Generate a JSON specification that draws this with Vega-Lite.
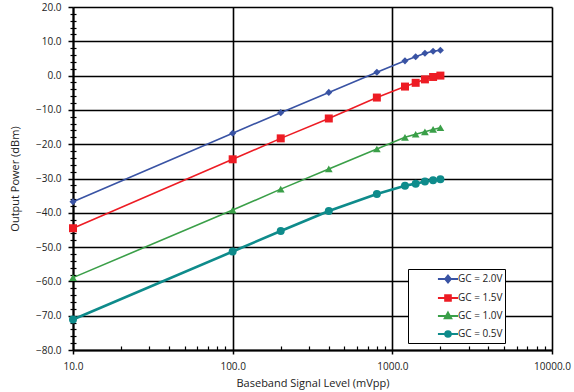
{
  "$schema": "https://vega.github.io/schema/vega-lite/v6.json",
  "width": 479,
  "height": 343,
  "autosize": {"type": "none"},
  "padding": {"left": 73, "top": 7, "right": 22, "bottom": 42},
  "background": "white",
  "config": {
    "view": {"stroke": null},
    "font": "Open Sans",
    "axis": {"labelFont": "Open Sans", "titleFont": "Open Sans", "labelColor": "#222", "titleColor": "#222", "labelFontSize": 10, "titleFontSize": 11, "titleFontWeight": "normal"}
  },
  "data": {
    "values": [
      {"mv": 10, "p": -36.8, "gc": "GC = 2.0V"},
      {"mv": 100, "p": -16.8, "gc": "GC = 2.0V"},
      {"mv": 200, "p": -10.8, "gc": "GC = 2.0V"},
      {"mv": 400, "p": -4.9, "gc": "GC = 2.0V"},
      {"mv": 800, "p": 1.0, "gc": "GC = 2.0V"},
      {"mv": 1200, "p": 4.3, "gc": "GC = 2.0V"},
      {"mv": 1400, "p": 5.5, "gc": "GC = 2.0V"},
      {"mv": 1600, "p": 6.5, "gc": "GC = 2.0V"},
      {"mv": 1800, "p": 7.1, "gc": "GC = 2.0V"},
      {"mv": 2000, "p": 7.4, "gc": "GC = 2.0V"},
      {"mv": 10, "p": -44.5, "gc": "GC = 1.5V"},
      {"mv": 100, "p": -24.4, "gc": "GC = 1.5V"},
      {"mv": 200, "p": -18.3, "gc": "GC = 1.5V"},
      {"mv": 400, "p": -12.5, "gc": "GC = 1.5V"},
      {"mv": 800, "p": -6.4, "gc": "GC = 1.5V"},
      {"mv": 1200, "p": -3.2, "gc": "GC = 1.5V"},
      {"mv": 1400, "p": -2.1, "gc": "GC = 1.5V"},
      {"mv": 1600, "p": -1.1, "gc": "GC = 1.5V"},
      {"mv": 1800, "p": -0.4, "gc": "GC = 1.5V"},
      {"mv": 2000, "p": 0.0, "gc": "GC = 1.5V"},
      {"mv": 10, "p": -58.9, "gc": "GC = 1.0V"},
      {"mv": 100, "p": -39.2, "gc": "GC = 1.0V"},
      {"mv": 200, "p": -33.1, "gc": "GC = 1.0V"},
      {"mv": 400, "p": -27.2, "gc": "GC = 1.0V"},
      {"mv": 800, "p": -21.4, "gc": "GC = 1.0V"},
      {"mv": 1200, "p": -18.0, "gc": "GC = 1.0V"},
      {"mv": 1400, "p": -17.1, "gc": "GC = 1.0V"},
      {"mv": 1600, "p": -16.4, "gc": "GC = 1.0V"},
      {"mv": 1800, "p": -15.7, "gc": "GC = 1.0V"},
      {"mv": 2000, "p": -15.2, "gc": "GC = 1.0V"},
      {"mv": 10, "p": -71.1, "gc": "GC = 0.5V"},
      {"mv": 100, "p": -51.3, "gc": "GC = 0.5V"},
      {"mv": 200, "p": -45.3, "gc": "GC = 0.5V"},
      {"mv": 400, "p": -39.5, "gc": "GC = 0.5V"},
      {"mv": 800, "p": -34.5, "gc": "GC = 0.5V"},
      {"mv": 1200, "p": -32.1, "gc": "GC = 0.5V"},
      {"mv": 1400, "p": -31.5, "gc": "GC = 0.5V"},
      {"mv": 1600, "p": -30.9, "gc": "GC = 0.5V"},
      {"mv": 1800, "p": -30.5, "gc": "GC = 0.5V"},
      {"mv": 2000, "p": -30.2, "gc": "GC = 0.5V"}
    ]
  },
  "resolve": {"axis": {"x": "independent", "y": "independent"}},
  "layer": [
    {
      "mark": {"type": "line"},
      "encoding": {
        "x": {"field": "mv", "type": "quantitative",
          "scale": {"type": "log", "domain": [10, 10000], "nice": false},
          "axis": {"orient": "bottom", "values": [10, 100, 1000, 10000], "format": ".1f", "title": "Baseband Signal Level (mVpp)",
            "grid": true, "gridColor": "black", "gridWidth": 1.6, "gridOpacity": 1,
            "domainColor": "black", "domainWidth": 2, "tickColor": "black", "tickWidth": 1.5, "tickSize": 4,
            "labelPadding": 7, "titlePadding": 6, "labelFlush": false}},
        "y": {"field": "p", "type": "quantitative",
          "scale": {"domain": [-80, 20], "nice": false},
          "axis": {"orient": "left", "values": [-80, -70, -60, -50, -40, -30, -20, -10, 0, 10, 20], "format": ".1f", "title": "Output Power (dBm)",
            "grid": true, "gridColor": "black", "gridWidth": 1.6, "gridOpacity": 1,
            "domainColor": "black", "domainWidth": 2, "tickColor": "black", "tickWidth": 1.5, "tickSize": 5,
            "labelPadding": 7, "titlePadding": 15}},
        "color": {"field": "gc", "type": "nominal", "legend": null,
          "scale": {"range": ["#0E8B8B", "#3A9F48", "#ED1C24", "#3953A4"]}},
        "strokeWidth": {"condition": {"test": "datum.gc === 'GC = 0.5V'", "value": 2.6}, "value": 1.6}
      }
    },
    {
      "transform": [{"filter": "datum.gc === 'GC = 2.0V'"}],
      "mark": {"type": "point", "filled": true, "opacity": 1, "shape": "diamond", "size": 50},
      "encoding": {
        "x": {"field": "mv", "type": "quantitative",
          "axis": {"orient": "bottom", "values": [20, 30, 40, 50, 60, 70, 80, 90, 200, 300, 400, 500, 600, 700, 800, 900, 2000, 3000, 4000, 5000, 6000, 7000, 8000, 9000],
            "labels": false, "grid": false, "domain": false, "title": null, "tickColor": "black", "tickWidth": 1.2, "tickSize": -4}},
        "y": {"field": "p", "type": "quantitative",
          "axis": {"orient": "left", "values": [-78, -76, -74, -72, -68, -66, -64, -62, -58, -56, -54, -52, -48, -46, -44, -42, -38, -36, -34, -32, -28, -26, -24, -22, -18, -16, -14, -12, -8, -6, -4, -2, 2, 4, 6, 8, 12, 14, 16, 18],
            "labels": false, "grid": false, "domain": false, "title": null, "tickColor": "black", "tickWidth": 1.2, "tickSize": 6, "offset": -3}},
        "color": {"field": "gc", "type": "nominal", "legend": null}
      }
    },
    {
      "transform": [{"filter": "datum.gc === 'GC = 1.5V'"}],
      "mark": {"type": "point", "filled": true, "opacity": 1, "shape": "square", "size": 64},
      "encoding": {
        "x": {"field": "mv", "type": "quantitative", "axis": null},
        "y": {"field": "p", "type": "quantitative", "axis": null},
        "color": {"field": "gc", "type": "nominal", "legend": null}
      }
    },
    {
      "transform": [{"filter": "datum.gc === 'GC = 1.0V'"}],
      "mark": {"type": "point", "filled": true, "opacity": 1, "shape": "triangle-up", "size": 60},
      "encoding": {
        "x": {"field": "mv", "type": "quantitative", "axis": null},
        "y": {"field": "p", "type": "quantitative", "axis": null},
        "color": {"field": "gc", "type": "nominal", "legend": null}
      }
    },
    {
      "transform": [{"filter": "datum.gc === 'GC = 0.5V'"}],
      "mark": {"type": "point", "filled": true, "opacity": 1, "shape": "circle", "size": 64},
      "encoding": {
        "x": {"field": "mv", "type": "quantitative", "axis": null},
        "y": {"field": "p", "type": "quantitative", "axis": null},
        "color": {"field": "gc", "type": "nominal", "legend": null}
      }
    },
    {
      "mark": {"type": "point", "filled": true, "opacity": 0, "strokeWidth": 2},
      "encoding": {
        "x": {"field": "mv", "type": "quantitative", "axis": null},
        "y": {"field": "p", "type": "quantitative", "axis": null},
        "fill": {"field": "gc", "type": "nominal",
          "scale": {"domain": ["GC = 2.0V", "GC = 1.5V", "GC = 1.0V", "GC = 0.5V"], "range": ["#3953A4", "#ED1C24", "#3A9F48", "#0E8B8B"]},
          "legend": {
            "title": null, "orient": "none", "legendX": 335, "legendY": 262,
            "strokeColor": "black", "fillColor": "white", "padding": 2, "symbolOpacity": 1,
            "labelFont": "Open Sans", "labelFontSize": 10, "labelColor": "#222", "rowPadding": 3,
            "symbolSize": 180, "symbolStrokeWidth": 2, "labelOffset": 2, "symbolOffset": 30,
            "labelExpr": "datum.label + '\u00a0\u00a0\u00a0\u00a0\u00a0\u00a0\u00a0\u00a0\u00a0\u00a0\u00a0\u00a0\u00a0\u00a0\u00a0\u00a0\u00a0\u00a0\u00a0\u00a0\u00a0\u00a0\u00a0\u00a0\u00a0\u00a0\u00a0\u00a0\u00a0'"
          }},
        "stroke": {"field": "gc", "type": "nominal",
          "scale": {"domain": ["GC = 2.0V", "GC = 1.5V", "GC = 1.0V", "GC = 0.5V"], "range": ["#3953A4", "#ED1C24", "#3A9F48", "#0E8B8B"]},
          "legend": {"title": null, "symbolOpacity": 1}},
        "shape": {"field": "gc", "type": "nominal",
          "scale": {"domain": ["GC = 2.0V", "GC = 1.5V", "GC = 1.0V", "GC = 0.5V"],
            "range": ["M-1.5,0H1.5M0,-0.5L0.42,0L0,0.5L-0.42,0Z", "M-1.5,0H1.5M-0.42,-0.42H0.42V0.42H-0.42Z", "M-1.5,0H1.5M0,-0.5L0.48,0.35H-0.48Z", "M-1.5,0H1.5M0.42,0A0.42,0.42,0,1,1,-0.42,0A0.42,0.42,0,1,1,0.42,0Z"]},
          "legend": {"title": null, "symbolOpacity": 1}}
      }
    }
  ]
}
